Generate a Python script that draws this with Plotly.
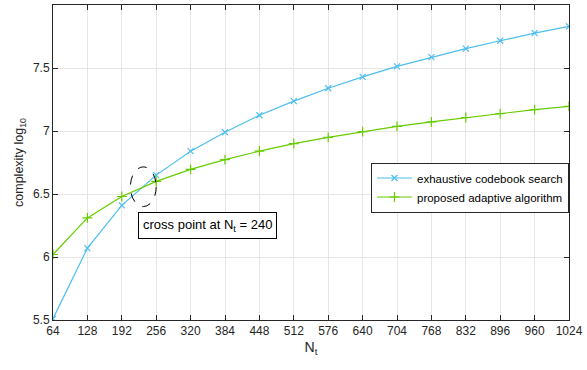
import plotly.graph_objects as go

Nt = list(range(64, 1025, 64))
exhaustive = [5.51, 6.07, 6.41, 6.65, 6.84, 6.99, 7.125, 7.237, 7.339, 7.43, 7.513,
              7.586, 7.654, 7.716, 7.777, 7.83]
proposed = [6.02, 6.31, 6.48, 6.60, 6.695, 6.773, 6.84, 6.90, 6.95, 6.995, 7.037,
            7.073, 7.107, 7.138, 7.17, 7.195]
ytick_vals = [5.5, 6, 6.5, 7, 7.5, 8]
ytick_text = ["5.5", "6", "6.5", "7", "7.5", "8"]

BLUE = "#4DBEEE"
GREEN = "#66CC00"
FONT = "Liberation Sans, Arial, sans-serif"

fig = go.Figure()
fig.add_trace(go.Scatter(
    x=Nt, y=exhaustive, mode="lines+markers", name="exhaustive codebook search",
    line=dict(color=BLUE, width=1.2),
    marker=dict(symbol="x-thin", size=6, line=dict(color=BLUE, width=1.2)),
))
fig.add_trace(go.Scatter(
    x=Nt, y=proposed, mode="lines+markers", name="proposed adaptive algorithm",
    line=dict(color=GREEN, width=1.2),
    marker=dict(symbol="cross-thin", size=7, line=dict(color=GREEN, width=1.2)),
))

fig.add_shape(type="circle", xref="x", yref="y", x0=208, x1=256, y0=6.40, y1=6.715,
              line=dict(color="black", width=1, dash="dash"))
fig.add_annotation(x=351, y=6.25, xref="x", yref="y", showarrow=False,
                   text="cross point at N<sub>t</sub> = 240",
                   font=dict(family=FONT, size=13, color="black"),
                   bordercolor="black", borderwidth=1, borderpad=4, bgcolor="white")

axis_common = dict(showline=True, linecolor="#262626", linewidth=1, mirror="ticks",
                   ticks="inside", ticklen=5, tickcolor="#262626",
                   showgrid=True, gridcolor="#E6E6E6", gridwidth=1, zeroline=False,
                   tickfont=dict(family=FONT, size=12, color="#262626"))

fig.update_xaxes(range=[64, 1024], tickvals=Nt, ticktext=[str(v) for v in Nt],
                 title=dict(text="N<sub>t</sub>", font=dict(family=FONT, size=14, color="#262626"),
                            standoff=4),
                 **axis_common)
fig.update_yaxes(range=[5.5, 8], tickvals=ytick_vals, ticktext=ytick_text,
                 title=dict(text="complexity log<sub>10</sub>",
                            font=dict(family=FONT, size=12.5, color="#262626"), standoff=6),
                 **axis_common)

fig.update_layout(
    width=587, height=370,
    margin=dict(l=53, r=14, t=4, b=50),
    paper_bgcolor="white", plot_bgcolor="white",
    font=dict(family=FONT, size=12, color="#262626"),
    legend=dict(x=1, y=0.50, xanchor="right", yanchor="top",
                bordercolor="#262626", borderwidth=1, bgcolor="white",
                font=dict(family=FONT, size=11.5, color="black"),
                tracegroupgap=0, itemwidth=35),
)

fig.write_html("out.html")
